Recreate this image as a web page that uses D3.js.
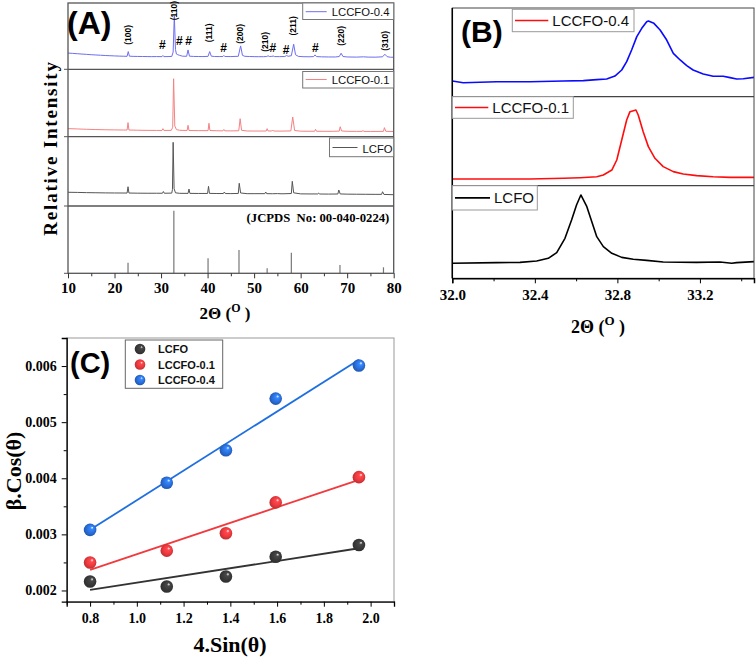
<!DOCTYPE html>
<html><head><meta charset="utf-8">
<script src="https://cdn.jsdelivr.net/npm/d3@7"></script>
<style>body{margin:0;background:#fff}svg{display:block}</style>
</head><body>
<svg id="c" width="756" height="661"></svg>
<script>
// ---------------- DATA ----------------
// Panel A: XRD patterns, [2theta, relative intensity within its own strip]
const xrdLCCFO04 = [[10,24.5],[11,24],[12,23.5],[13,23],[14,22.5],[15,22],[16,21.6],[17,21.2],[18,20.8],[19,20.5],[20,20.2],[21,19.9],[22,19.7],[22.7,19.6],[22.95,26.7],[23.2,19.8],[24,19.5],[25,19.4],[26,19.3],[27,19.2],[28,19.1],[29,19.2],[30.2,19.1],[30.4,20.8],[30.6,19.1],[31.5,19.2],[32.3,19.4],[32.6,26],[32.85,80.8],[33.1,30],[33.3,23],[33.6,22],[34,21],[34.6,19.8],[35.5,19.6],[35.8,29.2],[36.1,19.8],[37,19.4],[38,19.3],[39,19.2],[40.1,19.5],[40.45,26.7],[40.8,19.8],[41.5,19.3],[42.5,19.2],[43.3,19.3],[43.5,20.8],[43.7,19.3],[45,19.2],[46.6,19.6],[47.1,35.3],[47.5,21],[48,19.6],[49,19.3],[50,19.1],[51,19],[52,19],[52.7,19.3],[53,20.4],[53.3,19.3],[53.8,19.5],[54.1,20],[54.4,19.2],[55.5,19.1],[56.6,19.3],[57,20.8],[57.3,19.6],[58,20.5],[58.5,37.9],[58.9,22],[59.5,19.5],[60.5,19],[62,18.9],[62.8,19.2],[63.1,21.7],[63.4,19.2],[64.5,18.8],[66,18.6],[67.5,18.6],[68.3,19.3],[68.7,24.2],[69.1,19.3],[70,18.6],[72,18.4],[73.5,18.8],[74.5,18.4],[76,18.3],[77.6,18.8],[78.1,22.7],[78.6,19],[79.3,18.2],[80,18.2]];
const xrdLCCFO01 = [[10,12],[12,11.5],[14,11],[16,10.6],[18,10.3],[20,10.1],[22,9.9],[22.7,9.9],[22.9,20.8],[23.1,9.9],[25,9.6],[27,9.4],[29,9.3],[30.2,9.3],[30.4,11.9],[30.6,9.3],[32.2,9.4],[32.5,14],[32.7,86],[32.95,16],[33.3,10.5],[34,9.5],[35.6,9.2],[35.8,16.9],[36.0,9.2],[38,9],[40.1,9],[40.3,19.9],[40.5,9.2],[42,8.8],[43.3,8.7],[43.5,10.7],[43.7,8.7],[45,8.6],[46.7,8.8],[47.0,26.7],[47.3,9.5],[48.5,8.5],[50,8.4],[52.6,8.4],[52.8,11.9],[53.0,8.5],[53.8,8.5],[54.0,9.9],[54.2,8.4],[56,8.3],[57.9,8.6],[58.3,29.2],[58.7,9.2],[60,8.2],[62,8.1],[63,8.1],[63.2,11],[63.4,8.1],[65,8],[67,8],[68.3,8.3],[68.5,14.8],[68.8,8.5],[70,8],[72,7.9],[73.2,7.9],[73.4,9.2],[73.6,7.9],[75,7.8],[77.8,7.9],[78.0,13.4],[78.3,8],[80,7.7]];
const xrdLCFO = [[10,19.8],[12,19.6],[14,19.3],[16,19.1],[18,18.9],[20,18.8],[22.7,18.7],[22.9,27.8],[23.1,18.7],[25,18.5],[27,18.4],[29,18.4],[30.3,18.4],[30.5,20.9],[30.7,18.4],[32.3,18.6],[32.45,24],[32.6,91.9],[32.8,25],[33.1,19],[34,18.3],[35.8,18.2],[36.0,24.5],[36.2,18.2],[38,18.1],[40.0,18.1],[40.2,28.4],[40.4,18.2],[42,18],[43.4,18],[43.6,20.2],[43.8,18],[45,17.9],[46.6,18.1],[46.8,32.8],[47.1,18.8],[48.5,17.8],[50,17.8],[52.3,17.8],[52.5,20.2],[52.7,17.8],[54,17.7],[55,17.9],[56,17.6],[58.0,18],[58.2,35.6],[58.5,19],[60,17.5],[62,17.4],[63.7,17.4],[63.9,18.6],[64.1,17.3],[66,17.2],[68.0,17.3],[68.2,23.1],[68.5,17.4],[70,17.1],[72,17],[74,16.9],[76,16.8],[77.4,16.8],[77.6,20.6],[77.9,16.7],[80,16.3]];
const jcpdsPos = [22.9, 32.75, 40.1, 46.75, 52.8, 58.0, 68.45, 77.8];
const jcpdsInt = [15.8, 93, 22.3, 34.6, 7.4, 30.6, 12.3, 8.9];
const hklText = ["(100)","(110)","(111)","(200)","(210)","(211)","(220)","(310)"];
const hklPos  = [22.95, 32.85, 40.4, 47.0, 52.34, 58.36, 68.67, 78.1];
const hklLevel = [52, 88.6, 55, 53.5, 41.4, 65.6, 50.5, 42.9];
const hashPos = [30.27, 33.92, 35.94, 43.46, 54.0, 56.85, 63.15];
const hashLevel = [36.8, 43.3, 43.3, 32.7, 32.7, 30.3, 32.7];
const seriesNames = ["LCCFO-0.4","LCCFO-0.1","LCFO"];

// Panel B: zoom of the (110) peak
const zoomLCCFO04 = [[32.0,17.7],[32.053,15.8],[32.215,16.9],[32.377,16.9],[32.538,17.7],[32.635,18.1],[32.700,19.2],[32.748,20.0],[32.788,23.3],[32.821,30.1],[32.845,39.5],[32.869,52.6],[32.894,67.7],[32.918,77.1],[32.942,84.6],[32.950,85.3],[32.977,82.7],[33.007,75.2],[33.039,63.9],[33.071,48.9],[33.104,41.4],[33.136,35.0],[33.167,30.1],[33.216,25.6],[33.264,23.0],[33.313,23.0],[33.346,21.5],[33.378,20.0],[33.410,20.3],[33.462,21.8]];
const zoomLCCFO01 = [[32.0,7.5],[32.215,7.5],[32.377,7.5],[32.538,8.3],[32.619,9.0],[32.700,10.1],[32.732,12.0],[32.773,17.6],[32.797,28.9],[32.821,51.3],[32.845,73.8],[32.861,83.2],[32.890,85.1],[32.901,79.4],[32.925,60.7],[32.950,43.9],[32.982,30.8],[33.022,21.4],[33.071,15.8],[33.119,13.1],[33.184,11.3],[33.264,10.1],[33.346,9.4],[33.462,9.4]];
const zoomLCFO = [[32.0,16.2],[32.215,16.9],[32.328,17.2],[32.409,18.7],[32.465,21.6],[32.506,27.7],[32.546,43.2],[32.578,63.0],[32.602,79.2],[32.623,90.0],[32.652,77.4],[32.676,61.2],[32.700,45.0],[32.732,34.2],[32.773,27.0],[32.821,22.6],[32.877,20.5],[32.942,19.4],[33.022,17.6],[33.184,17.2],[33.297,17.6],[33.354,16.2],[33.378,16.9],[33.462,18.0]];
const zoomTicks = [32.0, 32.4, 32.8, 33.2];

// Panel C: Williamson-Hall
const sinTheta4 = [0.8, 1.128, 1.381, 1.594, 1.95];
const betaLCFO   = [0.00216, 0.00207, 0.00225, 0.00260, 0.00281];
const betaLCCFO01 = [0.00250, 0.00271, 0.00302, 0.00357, 0.00402];
const betaLCCFO04 = [0.00308, 0.00392, 0.00450, 0.00542, 0.00601];
const whNames = ["LCFO","LCCFO-0.1","LCCFO-0.4"];

// ---------------- DRAW ----------------
const svg = d3.select("#c");
const serif = "'Liberation Serif','Times New Roman',serif";
const sans = "'Liberation Sans',Arial,sans-serif";

// ===== Panel A =====
const AL = 68, AR = 393.7, AB = [3, 69.3, 136.7, 206, 273.3];
const xA = d3.scaleLinear().domain([10, 80]).range([AL, AR]);
const yA = i => d3.scaleLinear().domain([0, 100]).range([AB[i + 1], AB[i]]);
const gA = svg.append("g");
const colA = ["#6e6ef2", "#f58282", "#555555"];
[xrdLCCFO04, xrdLCCFO01, xrdLCFO].forEach((data, i) => {
  const y = yA(i);
  gA.append("path").datum(data)
    .attr("d", d3.line().x(d => xA(d[0])).y(d => y(d[1])))
    .attr("fill", "none").attr("stroke", colA[i]).attr("stroke-width", 1);
});
const y3 = yA(3);
gA.selectAll("line.stick").data(jcpdsPos).enter().append("line")
  .attr("x1", d => xA(d)).attr("x2", d => xA(d))
  .attr("y1", y3(0)).attr("y2", (d, i) => y3(jcpdsInt[i]))
  .attr("stroke", "#777").attr("stroke-width", 1.2);
gA.append("rect").attr("x", AL).attr("y", AB[0]).attr("width", AR - AL).attr("height", AB[4] - AB[0])
  .attr("fill", "none").attr("stroke", "#555").attr("stroke-width", 1.3);
[1, 2, 3].forEach(i => gA.append("line").attr("x1", AL).attr("x2", AR).attr("y1", AB[i]).attr("y2", AB[i])
  .attr("stroke", "#555").attr("stroke-width", 1.3));
AB.slice(1).forEach(v => gA.append("line").attr("x1", AL - 4).attr("x2", AL).attr("y1", v).attr("y2", v).attr("stroke", "#555"));
const yTop = yA(0);
hklText.forEach((t, i) => {
  gA.append("text").attr("transform", `translate(${xA(hklPos[i]) + 3},${yTop(hklLevel[i])}) rotate(-90)`)
    .attr("text-anchor", "middle").attr("font-family", sans).attr("font-weight", "bold")
    .attr("font-size", 8.5).text(t);
});
hashPos.forEach((p, i) => {
  gA.append("text").attr("x", xA(p)).attr("y", yTop(hashLevel[i]) + 4.5)
    .attr("text-anchor", "middle").attr("font-family", sans).attr("font-weight", "bold")
    .attr("font-size", 12).text("#");
});
const legA = [{y0: 3, y1: 19.5, x0: 302.7, ly: 11.7, ty: 16.3},
              {y0: 71.5, y1: 88, x0: 302.7, ly: 79.5, ty: 84.2},
              {y0: 138, y1: 156.7, x0: 329.5, ly: 147.5, ty: 152.5}];
legA.forEach((L, i) => {
  gA.append("rect").attr("x", L.x0).attr("y", L.y0).attr("width", AR - L.x0).attr("height", L.y1 - L.y0)
    .attr("fill", "#fff").attr("stroke", "#777").attr("stroke-width", 1);
  const lx0 = L.x0 + 3, lx1 = i === 2 ? L.x0 + 28 : L.x0 + 24;
  gA.append("line").attr("x1", lx0).attr("x2", lx1).attr("y1", L.ly).attr("y2", L.ly).attr("stroke", colA[i]).attr("stroke-width", 1);
  gA.append("text").attr("x", lx1 + 5).attr("y", L.ty).attr("font-family", sans).attr("font-size", 11.3).attr("fill", "#111").text(seriesNames[i]);
});
gA.append("text").attr("x", 389.3).attr("y", 221.5).attr("text-anchor", "end")
  .attr("font-family", serif).attr("font-weight", "bold").attr("font-size", 12.7)
  .style("white-space", "pre").text("(JCPDS  No: 00-040-0224)");
gA.append("text").attr("x", 67).attr("y", 34).attr("font-family", sans).attr("font-weight", "bold").attr("font-size", 32).text("(A)");
const axA = gA.append("g").attr("transform", `translate(0,${AB[4]})`)
  .call(d3.axisBottom(xA).tickValues(d3.range(10, 81, 10)).tickSize(5).tickPadding(4).tickFormat(d3.format("d")));
axA.select(".domain").remove();
axA.selectAll("line").attr("stroke", "#333");
axA.selectAll("text").attr("font-family", serif).attr("font-weight", "bold").attr("font-size", 15).attr("fill", "#000");
const axAm = gA.append("g").attr("transform", `translate(0,${AB[4]})`)
  .call(d3.axisBottom(xA).tickValues(d3.range(15, 80, 10)).tickSize(3).tickFormat(""));
axAm.select(".domain").remove(); axAm.selectAll("line").attr("stroke", "#333");
const tA = gA.append("text").attr("x", 225).attr("y", 319).attr("text-anchor", "middle")
  .attr("font-family", serif).attr("font-weight", "bold").attr("font-size", 17);
tA.append("tspan").text("2Θ (");
tA.append("tspan").attr("dy", -7).attr("font-size", 12).text("O");
tA.append("tspan").attr("dy", 7).text(" )");
gA.append("text").attr("transform", "translate(57,148) rotate(-90)").attr("text-anchor", "middle")
  .attr("font-family", serif).attr("font-weight", "bold").attr("font-size", 19).attr("letter-spacing", 1.8)
  .text("Relative Intensity");

// ===== Panel B =====
const BL = 452.3, BR = 754, BB = [8, 96.7, 185.7, 278.3];
const xB = d3.scaleLinear().domain([32.0, 33.462]).range([BL, BR]);
const yB = i => d3.scaleLinear().domain([0, 100]).range([BB[i + 1], BB[i]]);
const gB = svg.append("g");
const colB = ["#0a0aff", "#ff0d0d", "#000000"];
[zoomLCCFO04, zoomLCCFO01, zoomLCFO].forEach((data, i) => {
  const y = yB(i);
  gB.append("path").datum(data)
    .attr("d", d3.line().x(d => xB(d[0])).y(d => y(d[1])))
    .attr("fill", "none").attr("stroke", colB[i]).attr("stroke-width", 1.6).attr("stroke-linejoin", "round");
});
gB.append("rect").attr("x", BL).attr("y", BB[0]).attr("width", BR - BL).attr("height", BB[3] - BB[0])
  .attr("fill", "none").attr("stroke", "#444").attr("stroke-width", 1);
[1, 2].forEach(i => gB.append("line").attr("x1", BL).attr("x2", BR).attr("y1", BB[i]).attr("y2", BB[i]).attr("stroke", "#444").attr("stroke-width", 1.2));
gB.append("line").attr("x1", BL).attr("x2", BL).attr("y1", BB[0]).attr("y2", BB[3]).attr("stroke", "#000").attr("stroke-width", 1.5);
const legB = [{x0: 512.3, x1: 634, y0: 9.3, y1: 31.7, l0: 515, l1: 548.3},
              {x0: BL, x1: 573.3, y0: 96.7, y1: 118.3, l0: 455, l1: 488.3},
              {x0: BL, x1: 537.3, y0: 185.7, y1: 210, l0: 455, l1: 490}];
legB.forEach((L, i) => {
  gB.append("rect").attr("x", L.x0).attr("y", L.y0).attr("width", L.x1 - L.x0).attr("height", L.y1 - L.y0)
    .attr("fill", "#fff").attr("stroke", "#999").attr("stroke-width", 1);
  const ym = (L.y0 + L.y1) / 2;
  gB.append("line").attr("x1", L.l0).attr("x2", L.l1).attr("y1", ym).attr("y2", ym)
    .attr("stroke", i === 0 ? "#ff0d0d" : colB[i]).attr("stroke-width", 1.6);
  gB.append("text").attr("x", L.l1 + 4).attr("y", ym + 5.3).attr("font-family", sans).attr("font-size", 15)
    .attr("fill", "#111").text(seriesNames[i]);
});
gB.append("text").attr("x", 461).attr("y", 42).attr("font-family", sans).attr("font-weight", "bold").attr("font-size", 30).text("(B)");
const axB = gB.append("g").attr("transform", `translate(0,${BB[3]})`)
  .call(d3.axisBottom(xB).tickValues(zoomTicks).tickSize(5).tickPadding(6).tickFormat(d3.format(".1f")));
axB.select(".domain").attr("stroke", "#000").attr("stroke-width", 1.5);
axB.selectAll("line").attr("stroke", "#000");
axB.selectAll("text").attr("font-family", serif).attr("font-weight", "bold").attr("font-size", 15).attr("fill", "#000");
const axBm = gB.append("g").attr("transform", `translate(0,${BB[3]})`)
  .call(d3.axisBottom(xB).tickValues([32.2, 32.6, 33.0, 33.4]).tickSize(3).tickFormat(""));
axBm.select(".domain").remove(); axBm.selectAll("line").attr("stroke", "#000");
const tB = gB.append("text").attr("x", 598).attr("y", 333).attr("text-anchor", "middle")
  .attr("font-family", serif).attr("font-weight", "bold").attr("font-size", 18);
tB.append("tspan").text("2Θ (");
tB.append("tspan").attr("dy", -8).attr("font-size", 13).text("O");
tB.append("tspan").attr("dy", 8).text(" )");

// ===== Panel C =====
const CL = 66.7, CR = 394, CT = 338, CBm = 601.7;
const xC = d3.scaleLinear().domain([0.7, 2.1]).range([CL, CR]);
const yC = d3.scaleLinear().domain([0.0018, 0.0065]).range([CBm, CT]);
const gC = svg.append("g");
const colC = ["#3a3a3a", "#ee3a3f", "#2a6fdc"];
const lineC = ["#333333", "#f03a3e", "#1f6fe0"];
const defs = svg.append("defs");
colC.forEach((c, i) => {
  const g = defs.append("radialGradient").attr("id", "sph" + i).attr("cx", "0.5").attr("cy", "0.5").attr("r", "0.55")
    .attr("fx", "0.68").attr("fy", "0.3");
  g.append("stop").attr("offset", "0%").attr("stop-color", "#ffffff");
  g.append("stop").attr("offset", "22%").attr("stop-color", d3.color(c).brighter(0.6));
  g.append("stop").attr("offset", "60%").attr("stop-color", c);
  g.append("stop").attr("offset", "100%").attr("stop-color", d3.color(c).darker(0.8));
});
function fit(xs, ys) {
  const mx = d3.mean(xs), my = d3.mean(ys);
  const sxy = d3.sum(xs, (x, i) => (x - mx) * (ys[i] - my));
  const sxx = d3.sum(xs, x => (x - mx) * (x - mx));
  const b = sxy / sxx, a = my - b * mx;
  const x0 = d3.min(xs), x1 = d3.max(xs);
  return [[x0, a + b * x0], [x1, a + b * x1]];
}
gC.append("rect").attr("x", CL).attr("y", CT).attr("width", CR - CL).attr("height", CBm - CT)
  .attr("fill", "none").attr("stroke", "#999").attr("stroke-width", 1);
[betaLCFO, betaLCCFO01, betaLCCFO04].forEach((ys, i) => {
  gC.append("path").datum(fit(sinTheta4, ys))
    .attr("d", d3.line().x(d => xC(d[0])).y(d => yC(d[1])))
    .attr("stroke", lineC[i]).attr("stroke-width", 1.8).attr("fill", "none");
});
[betaLCFO, betaLCCFO01, betaLCCFO04].forEach((ys, i) => {
  gC.selectAll(null).data(sinTheta4).enter().append("circle")
    .attr("cx", d => xC(d)).attr("cy", (d, j) => yC(ys[j])).attr("r", 6.3)
    .attr("fill", `url(#sph${i})`);
});
const axCx = gC.append("g").attr("transform", `translate(0,${CBm})`)
  .call(d3.axisBottom(xC).tickValues([0.8, 1.0, 1.2, 1.4, 1.6, 1.8, 2.0]).tickSize(5).tickPadding(6).tickFormat(d3.format(".1f")));
axCx.select(".domain").attr("stroke", "#000").attr("stroke-width", 1.3);
const axCxm = gC.append("g").attr("transform", `translate(0,${CBm})`)
  .call(d3.axisBottom(xC).tickValues([0.7, 0.9, 1.1, 1.3, 1.5, 1.7, 1.9, 2.1]).tickSize(3).tickFormat(""));
axCxm.select(".domain").remove();
const axCy = gC.append("g").attr("transform", `translate(${CL},0)`)
  .call(d3.axisLeft(yC).tickValues([0.002, 0.003, 0.004, 0.005, 0.006]).tickSize(5).tickPadding(5).tickFormat(d3.format(".3f")));
axCy.select(".domain").attr("stroke", "#000").attr("stroke-width", 1.3);
const axCym = gC.append("g").attr("transform", `translate(${CL},0)`)
  .call(d3.axisLeft(yC).tickValues([0.0025, 0.0035, 0.0045, 0.0055]).tickSize(3).tickFormat(""));
axCym.select(".domain").remove();
gC.selectAll(".tick line").attr("stroke", "#000");
[axCx, axCy].forEach(a => a.selectAll("text").attr("font-family", serif).attr("font-weight", "bold").attr("font-size", 14).attr("fill", "#000"));
gC.append("rect").attr("x", 125.3).attr("y", 340).attr("width", 97.4).attr("height", 48.3)
  .attr("fill", "#fff").attr("stroke", "#666").attr("stroke-width", 1);
whNames.forEach((n, i) => {
  const yy = 349 + i * 15.5;
  gC.append("circle").attr("cx", 140).attr("cy", yy).attr("r", 5.3).attr("fill", `url(#sph${i})`);
  gC.append("text").attr("x", 158).attr("y", yy + 4).attr("font-family", sans).attr("font-weight", "bold")
    .attr("font-size", 11).attr("fill", "#111").text(n);
});
gC.append("text").attr("x", 70).attr("y", 373).attr("font-family", sans).attr("font-weight", "bold").attr("font-size", 29).text("(C)");
gC.append("text").attr("x", 230).attr("y", 652).attr("text-anchor", "middle")
  .attr("font-family", serif).attr("font-weight", "bold").attr("font-size", 22).text("4.Sin(θ)");
gC.append("text").attr("transform", "translate(21,471) rotate(-90)").attr("text-anchor", "middle")
  .attr("font-family", serif).attr("font-weight", "bold").attr("font-size", 22).text("β.Cos(θ)");
</script>
</body></html>
